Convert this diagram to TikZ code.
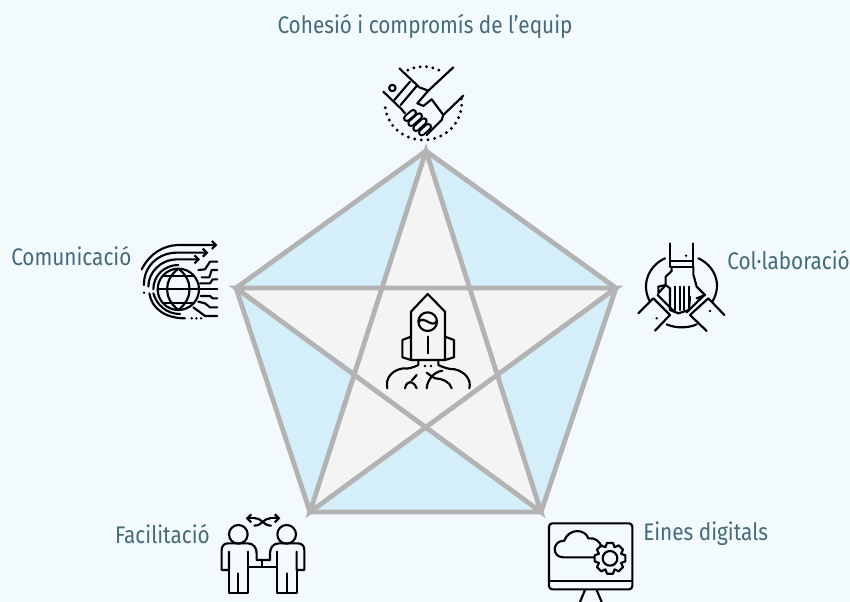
\documentclass[tikz,border=0pt]{standalone}
\usepackage{fontspec}
\setmainfont{Fira Sans}[FakeStretch=0.865]
\usepackage{xcolor}
\usetikzlibrary{
    arrows.meta,
    calc
}
\definecolor{pagebg}{HTML}{F2FAFE}
\definecolor{petal}{HTML}{D4EEFA}
\definecolor{core}{HTML}{F4F4F4}
\definecolor{edgegray}{HTML}{B3B3B3}
\definecolor{inktext}{HTML}{456A7A}
\tikzset{
    lbl/.style={inner sep=0pt, text=inktext, font=\fontsize{18}{20}\selectfont},
    ico/.style={x=.25pt, y=-.25pt, line width=1.6pt, line join=round, line cap=round},
    bar/.style={double=pagebg, double distance=2.6pt, line width=1.5pt, line cap=round},
    tip/.style={-{Straight Barb[length=3pt, width=6pt]}}
}
\begin{document}
\begin{tikzpicture}[x=.75pt, y=-.75pt]
    \useasboundingbox[fill=pagebg] (0, 0) rectangle (850, 602);
    \coordinate (vt) at (426, 151);
    \coordinate (vr) at (616, 288);
    \coordinate (vd) at (541, 512);
    \coordinate (vl) at (310, 512);
    \coordinate (vs) at (236, 288);
    \coordinate (it) at (383, 288);
    \coordinate (ir) at (470, 288);
    \coordinate (id) at (497, 373);
    \coordinate (ib) at (426, 425);
    \coordinate (il) at (358, 373);
    \fill[core] (vt) -- (vr) -- (vd) -- (vl) -- (vs) -- cycle;
    \fill[petal] (vt) -- (vs) -- (it) -- cycle;
    \fill[petal] (vt) -- (vr) -- (ir) -- cycle;
    \fill[petal] (vr) -- (vd) -- (id) -- cycle;
    \fill[petal] (vd) -- (vl) -- (ib) -- cycle;
    \fill[petal] (vl) -- (vs) -- (il) -- cycle;
    \draw[edgegray, line width=3.6pt, line join=miter] (vt) -- (vr) -- (vd) -- (vl) -- (vs) -- cycle;
    \draw[edgegray, line width=3.6pt, line join=miter] (vt) -- (vd) -- (vs) -- (vr) -- (vl) -- cycle;

    \node[lbl] (coh) at (425, 26) {Cohesió i compromís de l’equip};
    \node[lbl, anchor=west] (com) at (11, 256) {Comunicació};
    \node[lbl, anchor=east] (col) at (850, 260) {Col·laboració};
    \node[lbl, anchor=east] (fac) at (210, 534) {Facilitació};
    \node[lbl, anchor=west] (ein) at (643, 534) {Eines digitals};

    % handshake
    \begin{scope}[shift={(360, 50)}, ico]
        \foreach \a in {-115, -105, ..., -60}
            \fill ({190+110*cos(\a)}, {160+110*sin(\a)}) circle[radius=1.2pt];
        \foreach \a in {-7, 3, ..., 180}
            \fill ({190+115*cos(\a)}, {160+110*sin(\a)}) circle[radius=1.2pt];
        \draw (97, 114) circle[radius=2.4pt];
        \draw (70, 125) -- (125, 178) -- (135, 190);
        \draw (118, 55) -- (178, 112) -- (205, 122);
        \draw (150, 95) -- (103, 150);
        \draw (170, 108) -- (122, 165);
        \draw (280, 52) -- (205, 122) -- (172, 160) -- (190, 168) -- (215, 148) -- (250, 195);
        \draw (310, 137) -- (250, 195) -- (245, 210) -- (200, 255);
        \draw[bar] (140, 205) -- (160, 188);
        \draw[bar] (153, 220) -- (178, 198);
        \draw[bar] (168, 235) -- (192, 213);
        \draw[bar] (185, 248) -- (205, 230);
    \end{scope}

    % globe
    \begin{scope}[shift={(130, 230)}, ico]
        \draw (145, 178) circle[radius=15.5pt];
        \draw (145, 116) .. controls (100, 150) and (100, 205) .. (145, 240);
        \draw (145, 116) .. controls (190, 150) and (190, 205) .. (145, 240);
        \draw (83, 178) -- (262, 178);
        \draw (98, 138) -- (192, 138);
        \draw (98, 218) -- (192, 218);
        \draw[tip] (35, 118) .. controls (60, 70) and (100, 45) .. (150, 45) -- (262, 45);
        \draw[tip] (42, 165) .. controls (40, 110) and (85, 68) .. (140, 68) -- (235, 68);
        \draw[tip] (55, 170) .. controls (55, 125) and (95, 88) .. (140, 88) -- (210, 88);
        \fill (42, 188) circle[radius=1pt];
        \draw (70, 178) .. controls (70, 135) and (105, 105) .. (145, 105);
        \draw (58, 190) .. controls (65, 235) and (105, 265) .. (165, 265);
        \draw (70, 190) .. controls (80, 225) and (110, 252) .. (150, 252);
        \foreach \xd in {185, 199, 213}
            \fill (\xd, 265) circle[radius=1pt];
        \draw (205, 120) -- (225, 118) -- (240, 95) -- (262, 95);
        \draw (215, 142) -- (238, 142) -- (245, 120) -- (262, 120);
        \draw (210, 160) -- (240, 160) -- (248, 148) -- (262, 148);
        \draw (212, 198) -- (240, 198) -- (248, 205) -- (262, 205);
        \draw (205, 215) -- (225, 220) -- (240, 232) -- (262, 232);
        \draw (190, 232) -- (225, 258) -- (262, 258);
    \end{scope}

    % hands together
    \begin{scope}[shift={(625, 225)}, ico]
        \draw (135, 55) -- (135, 125) -- (205, 125) -- (205, 55);
        \draw (135, 108) -- (205, 108);
        \fill (183, 92) circle[radius=1pt];
        \draw (140, 125) -- (140, 138) -- (122, 155) -- (122, 180) -- (100, 185);
        \draw (205, 125) -- (205, 148) -- (215, 185) -- (240, 210) -- (215, 220);
        \draw (100, 185) -- (100, 205) -- (122, 180);
        \draw (122, 180) -- (135, 190) -- (135, 255) -- (160, 265) -- (192, 255) -- (195, 215);
        \foreach \xf in {150, 165, 178, 192}
            \draw (\xf, 185) -- (\xf, 255);
        \draw (40, 265) -- (85, 220) -- (135, 270) -- (90, 317);
        \draw (98, 210) -- (148, 260);
        \draw (298, 270) -- (250, 220) -- (195, 270) -- (245, 318);
        \draw (238, 210) -- (185, 262);
        \fill (95, 280) circle[radius=1pt];
        \fill (255, 258) circle[radius=1pt];
        \draw (120, 100) .. controls (75, 120) and (45, 175) .. (75, 230);
        \draw (220, 100) .. controls (265, 120) and (295, 175) .. (262, 230);
        \draw (125, 298) .. controls (150, 310) and (190, 310) .. (215, 298);
    \end{scope}

    % rocket
    \begin{scope}[shift={(375, 280)}, ico]
        \draw (108, 95) -- (158, 42) -- (210, 95) -- (210, 240) -- (108, 240) -- cycle;
        \draw (158, 125) circle[radius=7pt];
        \draw (132, 125) .. controls (145, 105) and (170, 145) .. (184, 125);
        \draw (158, 170) -- (158, 220);
        \draw (108, 170) -- (82, 180) -- (82, 232) -- (108, 240);
        \draw (210, 170) -- (237, 180) -- (237, 232) -- (210, 240);
        \draw (130, 240) -- (130, 255) .. controls (115, 262) and (100, 268) .. (85, 265)
            .. controls (50, 270) and (30, 295) .. (37, 325);
        \draw (190, 240) -- (190, 255) .. controls (205, 262) and (220, 268) .. (240, 268)
            .. controls (270, 275) and (290, 300) .. (283, 325);
        \draw (90, 325) .. controls (95, 300) and (115, 300) .. (125, 325);
        \draw (110, 302) -- (125, 285);
        \draw (155, 278) .. controls (165, 285) and (170, 290) .. (180, 295);
        \draw (155, 325) .. controls (158, 295) and (180, 275) .. (202, 272);
        \draw (180, 295) .. controls (200, 295) and (225, 305) .. (230, 325);
        \fill (150, 258) circle[radius=1pt];
        \fill (168, 258) circle[radius=1pt];
    \end{scope}

    % two people
    \begin{scope}[shift={(205, 505)}, ico]
        \draw (100, 88) circle[radius=7pt];
        \draw (245, 88) circle[radius=7pt];
        \draw (72, 140) -- (72, 195) -- (50, 195) -- (50, 135) .. controls (50, 122) and (58, 115) .. (70, 115)
            -- (128, 115) .. controls (145, 115) and (155, 128) .. (155, 145) -- (155, 165) -- (195, 165) -- (195, 145)
            .. controls (195, 128) and (205, 115) .. (222, 115) -- (278, 115)
            .. controls (290, 115) and (298, 122) .. (298, 135) -- (298, 195) -- (275, 195) -- (275, 140);
        \draw (72, 195) -- (72, 265) -- (130, 265) -- (130, 185) -- (215, 185) -- (215, 265) -- (275, 265) -- (275, 195);
        \draw (130, 140) -- (130, 185);
        \draw (215, 140) -- (215, 185);
        \draw (172, 165) -- (172, 185);
        \draw (100, 205) -- (100, 265);
        \draw (245, 205) -- (245, 265);
        \draw[tip] (150, 40) -- (122, 40);
        \draw[tip] (195, 40) -- (226, 40);
        \draw (150, 40) .. controls (172, 40) and (175, 62) .. (198, 62);
        \draw (195, 40) .. controls (175, 40) and (172, 62) .. (148, 62);
    \end{scope}

    % monitor
    \begin{scope}[shift={(535, 510)}, ico]
        \draw[rounded corners=2.5pt] (42, 40) rectangle (292, 238);
        \draw (42, 212) -- (292, 212);
        \draw (150, 240) -- (135, 276);
        \draw (185, 240) -- (200, 276);
        \draw (178, 142) -- (85, 142) .. controls (50, 142) and (50, 92) .. (88, 92)
            .. controls (100, 55) and (150, 55) .. (160, 85) .. controls (180, 82) and (195, 95) .. (200, 110);
        \draw (225, 145) circle[radius=5.5pt];
        \foreach \a in {0, 45, ..., 315}
            \draw ({225+36*cos(\a-22.5)}, {145+36*sin(\a-22.5)}) -- ({225+47*cos(\a-11)}, {145+47*sin(\a-11)})
                -- ({225+47*cos(\a+11)}, {145+47*sin(\a+11)}) -- ({225+36*cos(\a+22.5)}, {145+36*sin(\a+22.5)});
    \end{scope}
\end{tikzpicture}
\end{document}
